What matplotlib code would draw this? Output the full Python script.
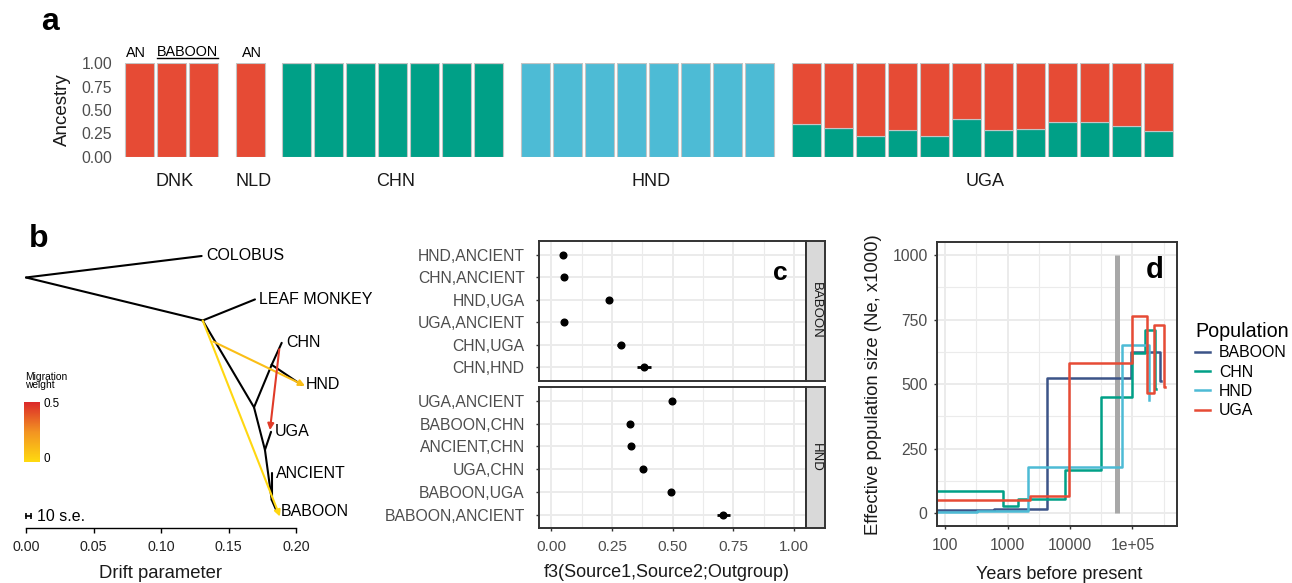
import numpy as np
import matplotlib
matplotlib.use('Agg')
import matplotlib.pyplot as plt
from matplotlib.colors import LinearSegmentedColormap

plt.rcParams['font.family'] = ['Liberation Sans', 'DejaVu Sans']

# ---------------- data ----------------
# panel a: admixture proportions per sample
groups = ['DNK', 'NLD', 'CHN', 'HND', 'UGA']
dnk_red = [1.0, 1.0, 1.0]
nld_red = [1.0]
chn_green = [1.0, 1.0, 1.0, 1.0, 1.0, 1.0, 1.0]
hnd_blue = [1.0, 1.0, 1.0, 1.0, 1.0, 1.0, 1.0, 1.0]
uga_green = [0.35, 0.31, 0.22, 0.29, 0.22, 0.40, 0.29, 0.30, 0.37, 0.37, 0.33, 0.27]
uga_red = [0.65, 0.69, 0.78, 0.71, 0.78, 0.60, 0.71, 0.70, 0.63, 0.63, 0.67, 0.73]

# panel b: treemix tree (drift, vertical rank)
node_names = ['root', 'COLOBUS', 'A', 'LEAF MONKEY', 'B', 'CH', 'CHN', 'HND',
              'C', 'UGA', 'D', 'ANCIENT', 'BABOON']
node_drift = [0.0, 0.1301, 0.1309, 0.1696, 0.1689, 0.1820, 0.1894, 0.2042,
              0.1770, 0.1815, 0.1820, 0.1820, 0.1859]
node_rank = [0.50, 0.00, 1.50, 1.01, 3.52, 2.53, 2.02, 3.00,
             4.51, 4.09, 5.67, 5.05, 5.95]
edges = [('root', 'COLOBUS'), ('root', 'A'), ('A', 'LEAF MONKEY'), ('A', 'B'),
         ('B', 'CH'), ('CH', 'CHN'), ('CH', 'HND'), ('B', 'C'), ('C', 'UGA'),
         ('C', 'D'), ('D', 'ANCIENT'), ('D', 'BABOON')]
tips = ['COLOBUS', 'LEAF MONKEY', 'CHN', 'HND', 'UGA', 'ANCIENT', 'BABOON']
mig_from_drift = [0.1309, 0.1387, 0.1876]
mig_from_rank = [1.50, 1.99, 2.17]
mig_to_drift = [0.1881, 0.2067, 0.1807]
mig_to_rank = [6.06, 3.02, 4.05]
mig_weight = [0.01, 0.10, 0.46]
se10 = 0.0037

# panel c: f3 statistics
baboon_pairs = ['HND,ANCIENT', 'CHN,ANCIENT', 'HND,UGA', 'UGA,ANCIENT', 'CHN,UGA', 'CHN,HND']
baboon_f3 = [0.047, 0.051, 0.238, 0.053, 0.286, 0.383]
baboon_se = [0.005, 0.005, 0.012, 0.005, 0.014, 0.029]
hnd_pairs = ['UGA,ANCIENT', 'BABOON,CHN', 'ANCIENT,CHN', 'UGA,CHN', 'BABOON,UGA', 'BABOON,ANCIENT']
hnd_f3 = [0.499, 0.323, 0.327, 0.379, 0.495, 0.708]
hnd_se = [0.005, 0.005, 0.005, 0.007, 0.005, 0.027]

# panel d: effective population size (x1000) step curves
baboon_years = [70, 600, 4250, 95000, 280000, 290000]
baboon_ne = [12, 17, 525, 624, 512, 512]
chn_years = [70, 860, 1490, 8300, 31000, 99000, 159000, 232000, 240000]
chn_ne = [87, 27, 56, 167, 452, 620, 709, 480, 480]
hnd_years = [70, 320, 2100, 69000, 183000, 187000]
hnd_ne = [4, 9, 180, 650, 440, 440]
uga_years = [70, 2300, 9800, 97000, 169000, 224000, 323000, 328000]
uga_ne = [50, 66, 583, 766, 466, 731, 490, 490]
split_year = 55900

RED, GREEN, BLUE, NAVY = '#E64B35', '#00A087', '#4DBBD5', '#3C5488'
GRAY30 = '#4D4D4D'

# ---------------- figure ----------------
W, H = 1292, 583
fig = plt.figure(figsize=(W / 100, H / 100), dpi=100)


def box(l, t, r, b):
    return fig.add_axes([l / W, 1 - b / H, (r - l) / W, (b - t) / H])


def ftext(x, y, s, **kw):
    return fig.text(x / W, 1 - y / H, s, **kw)


# ===== panel a =====
axa = box(123.4, 63.3, 1174.3, 156.7)
sizes = [len(dnk_red), len(nld_red), len(chn_green), len(hnd_blue), len(uga_green)]
green_all = [0.0] * 3 + [0.0] + chn_green + [0.0] * 8 + uga_green
blue_all = [0.0] * 3 + [0.0] + [0.0] * 7 + hnd_blue + [0.0] * 12
red_all = dnk_red + nld_red + [0.0] * 7 + [0.0] * 8 + uga_red
gap = 0.46
pos = []
centers = []
start = 0.0
for n in sizes:
    p = [start + i for i in range(n)]
    pos += p
    centers.append((p[0] + p[-1]) / 2)
    start += n + gap
pos = np.array(pos)
g = np.array(green_all)
b_ = np.array(blue_all)
r = np.array(red_all)
ec = '#C4C4C4'
axa.bar(pos, g, width=0.9, color=GREEN, edgecolor=ec, linewidth=0.8)
axa.bar(pos, b_, width=0.9, bottom=g, color=BLUE, edgecolor=ec, linewidth=0.8)
axa.bar(pos, r, width=0.9, bottom=g + b_, color=RED, edgecolor=ec, linewidth=0.8)
axa.set_xlim(-0.5, pos[-1] + 0.5)
axa.set_ylim(0, 1)
for s in axa.spines.values():
    s.set_visible(False)
axa.set_xticks([])
axa.set_yticks([0, 0.25, 0.5, 0.75, 1.0])
axa.set_yticklabels(['0.00', '0.25', '0.50', '0.75', '1.00'])
axa.tick_params(axis='y', length=0, pad=8, labelsize=11.3, labelcolor=GRAY30)
axa.set_ylabel('Ancestry', fontsize=13.5, color='#1A1A1A')
axa.yaxis.set_label_coords(-0.0495, 0.5)
for c, name in zip(centers, groups):
    axa.text(c + 0.1, -0.268, name, ha='center', va='center', fontsize=13,
             color='#1A1A1A', clip_on=False)
axa.text(pos[0] - 0.1, 1.113, 'AN', ha='center', va='center', fontsize=10.4, clip_on=False)
axa.text((pos[1] + pos[2]) / 2, 1.118, 'BABOON', ha='center', va='center', fontsize=10.4, clip_on=False)
axa.plot([pos[1] - 0.45, pos[2] + 0.45], [1.054, 1.054], color='black', lw=1.0, clip_on=False)
axa.text(pos[3] + 0.07, 1.113, 'AN', ha='center', va='center', fontsize=10.4, clip_on=False)
ftext(50, 22, 'a', fontsize=23, fontweight='bold', ha='center', va='center')

# ===== panel b =====
axb = box(19.25, 240, 336.5, 528.3)
axb.set_xlim(-0.005, 0.23)
axb.set_ylim(6.333, -0.372)
idx = {n: i for i, n in enumerate(node_names)}
for u, v in edges:
    axb.plot([node_drift[idx[u]], node_drift[idx[v]]],
             [node_rank[idx[u]], node_rank[idx[v]]],
             color='black', lw=1.5, solid_capstyle='round', clip_on=False, zorder=2)
mig_cmap = LinearSegmentedColormap.from_list('mig', ['#FFDA10', '#F39422', '#DC2A2A'])
for x0, y0, x1, y1, w in zip(mig_from_drift, mig_from_rank, mig_to_drift, mig_to_rank, mig_weight):
    axb.annotate('', xy=(x1, y1), xytext=(x0, y0),
                 arrowprops=dict(arrowstyle='-|>', color=mig_cmap(w / 0.5), lw=1.5,
                                 mutation_scale=9, shrinkA=0, shrinkB=0),
                 annotation_clip=False, zorder=3)
for t in tips:
    axb.annotate(t, (node_drift[idx[t]], node_rank[idx[t]]), xytext=(3, 0),
                 textcoords='offset points', ha='left', va='center', fontsize=11.5,
                 color='black', annotation_clip=False)
for s in ['left', 'right', 'top']:
    axb.spines[s].set_visible(False)
axb.spines['bottom'].set_bounds(0, 0.2)
axb.spines['bottom'].set_linewidth(1.0)
axb.set_yticks([])
axb.set_xticks([0, 0.05, 0.10, 0.15, 0.20])
axb.set_xticklabels(['0.00', '0.05', '0.10', '0.15', '0.20'])
axb.tick_params(axis='x', length=3.5, width=1.0, pad=5, labelsize=10.3, labelcolor='#222222')
axb.set_xlabel('Drift parameter', fontsize=13.3, color='#1A1A1A')
axb.xaxis.set_label_coords(0.4437, -0.128)
# scale bar "10 s.e."
axb.plot([0, se10], [6.05, 6.05], color='black', lw=1.2, marker='|', markersize=5,
         markeredgewidth=1.2, clip_on=False)
axb.annotate('10 s.e.', (se10, 6.05), xytext=(4, 0), textcoords='offset points',
             ha='left', va='center', fontsize=11.5, annotation_clip=False)
# migration weight colour bar
axcb = box(24, 401.7, 39.3, 461.7)
axcb.imshow(np.linspace(0, 1, 100).reshape(-1, 1), cmap=mig_cmap, origin='lower',
            aspect='auto', extent=[0, 1, 0, 0.5])
axcb.set_xticks([])
axcb.set_yticks([])
for s in axcb.spines.values():
    s.set_visible(False)
ftext(43, 404, '0.5', fontsize=8.4, ha='left', va='center')
ftext(43, 459, '0', fontsize=8.4, ha='left', va='center')
ftext(25, 377.5, 'Migration', fontsize=7.4, ha='left', va='center')
ftext(25, 385.5, 'weight', fontsize=7.4, ha='left', va='center')
ftext(38.3, 238.5, 'b', fontsize=23, fontweight='bold', ha='center', va='center')


# ===== panel c =====
def gg_panel(ax):
    ax.set_facecolor('white')
    for s in ax.spines.values():
        s.set_color('#333333')
        s.set_linewidth(1.4)
    ax.tick_params(colors='#333333', labelcolor=GRAY30)


def strip(l, t, r, b, label):
    sa = box(l, t, r, b)
    sa.set_facecolor('#D9D9D9')
    for s in sa.spines.values():
        s.set_color('#333333')
        s.set_linewidth(1.4)
    sa.set_xticks([])
    sa.set_yticks([])
    sa.text(0.5, 0.5, label, rotation=-90, ha='center', va='center', fontsize=9.5,
            color='#1A1A1A', transform=sa.transAxes)


panels_c = [((539.3, 241, 806, 380.7), baboon_pairs, baboon_f3, baboon_se, 'BABOON'),
            ((539.3, 387.3, 806, 528.3), hnd_pairs, hnd_f3, hnd_se, 'HND')]
axes_c = []
for (l, t, rr, bb), labels, vals, ses, outg in panels_c:
    ax = box(l, t, rr, bb)
    gg_panel(ax)
    ypos = np.arange(len(labels), 0, -1)
    for xv in [0, 0.25, 0.5, 0.75, 1.0]:
        ax.axvline(xv, color='#EBEBEB', lw=1.4, zorder=0)
    for xv in [0.125, 0.375, 0.625, 0.875]:
        ax.axvline(xv, color='#EBEBEB', lw=0.8, zorder=0)
    for yv in ypos:
        ax.axhline(yv, color='#EBEBEB', lw=1.4, zorder=0)
    ax.errorbar(vals, ypos, xerr=ses, fmt='o', color='black', markersize=4.8,
                elinewidth=2.0, capsize=0, zorder=3)
    ax.set_xlim(-0.05, 1.05)
    ax.set_ylim(0.4, len(labels) + 0.6)
    ax.set_yticks(ypos)
    ax.set_yticklabels(labels)
    ax.tick_params(axis='y', length=2.5, width=1.0, pad=8, labelsize=11.3)
    ax.set_xticks([0, 0.25, 0.5, 0.75, 1.0])
    strip(rr, t, 825, bb, outg)
    axes_c.append(ax)
axes_c[0].tick_params(axis='x', length=0, labelbottom=False)
axes_c[1].set_xticklabels(['0.00', '0.25', '0.50', '0.75', '1.00'])
axes_c[1].tick_params(axis='x', length=2.5, width=1.0, pad=6, labelsize=11.1)
axes_c[1].set_xlabel('f3(Source1,Source2;Outgroup)', fontsize=13, color='#1A1A1A')
axes_c[1].xaxis.set_label_coords(0.478, -0.252)
ftext(780, 273, 'c', fontsize=19, fontweight='bold', ha='center', va='center')

# ===== panel d =====
axd = box(936.7, 242.3, 1176.7, 526)
gg_panel(axd)
axd.set_xscale('log')
axd.set_xlim(73.6, 5.1e5)
axd.set_ylim(-50, 1050)
for xv in [100, 1000, 10000, 100000]:
    axd.axvline(xv, color='#EBEBEB', lw=1.4, zorder=0)
for xv in [316.2, 3162, 31623, 316228]:
    axd.axvline(xv, color='#EBEBEB', lw=0.8, zorder=0)
for yv in [0, 250, 500, 750, 1000]:
    axd.axhline(yv, color='#EBEBEB', lw=1.4, zorder=0)
for yv in [125, 375, 625, 875]:
    axd.axhline(yv, color='#EBEBEB', lw=0.8, zorder=0)
axd.plot([split_year, split_year], [0, 1000], color='#A8A8A8', lw=3.6, zorder=1,
         solid_capstyle='butt')
series_d = [('BABOON', baboon_years, baboon_ne, NAVY),
            ('CHN', chn_years, chn_ne, GREEN),
            ('HND', hnd_years, hnd_ne, BLUE),
            ('UGA', uga_years, uga_ne, RED)]
for name, yrs, ne, col in series_d:
    axd.plot(yrs, ne, drawstyle='steps-post', color=col, lw=1.8, label=name, zorder=2)
axd.set_xticks([100, 1000, 10000, 100000])
axd.set_xticklabels(['100', '1000', '10000', '1e+05'])
axd.xaxis.set_minor_locator(matplotlib.ticker.NullLocator())
axd.set_yticks([0, 250, 500, 750, 1000])
axd.set_yticklabels(['0', '250', '500', '750', '1000'])
axd.tick_params(axis='both', length=2.5, width=1.0, labelsize=11.3)
axd.tick_params(axis='x', pad=6)
axd.tick_params(axis='y', pad=4)
axd.set_xlabel('Years before present', fontsize=13, color='#1A1A1A')
axd.xaxis.set_label_coords(0.51, -0.141)
axd.set_ylabel('Effective population size (Ne, x1000)', fontsize=13.3, color='#1A1A1A')
axd.yaxis.set_label_coords(-0.226, 0.5)
leg = axd.legend(title='Population', loc='upper left', bbox_to_anchor=(1195 / W, 1 - 322 / H),
                 bbox_transform=fig.transFigure, frameon=False, fontsize=11.4,
                 title_fontsize=14.2, handlelength=0.95, handletextpad=0.55,
                 labelspacing=0.27, borderpad=0, borderaxespad=0, alignment='left')
for line in leg.get_lines():
    line.set_linewidth(1.8)
ftext(1155, 270, 'd', fontsize=21, fontweight='bold', ha='center', va='center')

fig.savefig('out.png', dpi=100)
